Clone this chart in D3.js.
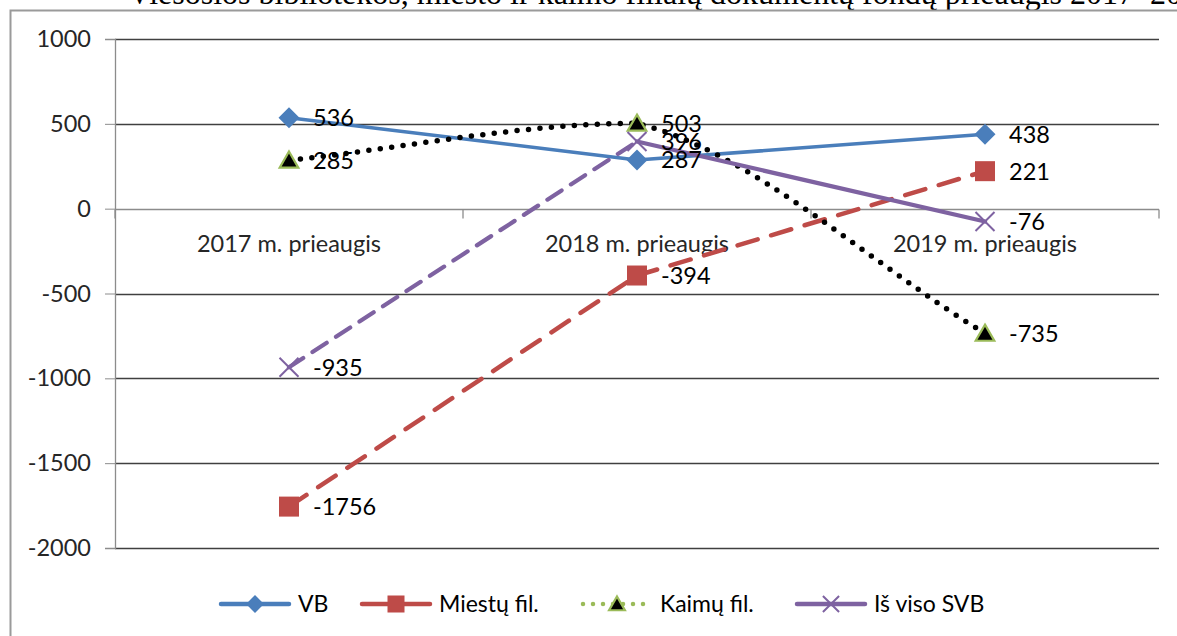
<!DOCTYPE html>
<html>
<head>
<meta charset="utf-8">
<script src="https://d3js.org/d3.v7.min.js"></script>
<style>
    body { margin: 0; background: #fff; }
    svg text { font-family: Lato, "Open Sans", sans-serif; }
</style>
</head>
<body>
<div id="chart"></div>
<script>
    // data
    const categories = ['2017 m. prieaugis', '2018 m. prieaugis', '2019 m. prieaugis'];
    const seriesNames = ['VB', 'Miestų fil.', 'Kaimų fil.', 'Iš viso SVB'];
    const vbValues = [536, 287, 438];
    const miestuValues = [-1756, -394, 221];
    const kaimuValues = [285, 503, -735];
    const isVisoValues = [-935, 396, -76];
    const yTicks = [1000, 500, 0, -500, -1000, -1500, -2000];
    const titleText = 'Viešosios bibliotekos, miesto ir kaimo filialų dokumentų fondų prieaugis 2017–2019 m.';

    const width = 1177, height = 636;
    const margin = { top: 39, right: 18, bottom: 88, left: 115 };
    const fontSize = 23.5;

    const svg = d3.select('#chart').append('svg')
        .attr('width', width)
        .attr('height', height);

    // clipped heading of the document above the chart
    svg.append('text')
        .attr('x', 128)
        .attr('y', 4)
        .attr('font-size', 32)
        .style('font-family', '"Liberation Serif", serif')
        .attr('fill', '#000')
        .text(titleText);

    // chart frame
    svg.append('path')
        .attr('d', `M10.5,${height} V10.5 H${width}`)
        .attr('fill', 'none')
        .attr('stroke', '#9a9a9a')
        .attr('stroke-width', 2);

    const x = d3.scalePoint()
        .domain(categories)
        .range([margin.left, width - margin.right])
        .padding(0.5);
    const band = x.step();

    const y = d3.scaleLinear()
        .domain([-2000, 1000])
        .range([height - margin.bottom, margin.top]);

    // gridlines
    svg.append('g')
        .selectAll('line')
        .data(yTicks.filter(d => d !== 0))
        .join('line')
        .attr('x1', margin.left)
        .attr('x2', width - margin.right)
        .attr('y1', d => Math.round(y(d)) + 0.5)
        .attr('y2', d => Math.round(y(d)) + 0.5)
        .attr('stroke', '#404040')
        .attr('stroke-width', 1.4);

    // value axis
    const yAxis = svg.append('g')
        .attr('transform', `translate(${margin.left},0)`)
        .call(d3.axisLeft(y).tickValues(yTicks).tickSize(10).tickPadding(14).tickFormat(d => String(d)));
    yAxis.select('.domain').attr('stroke', '#8c8c8c').attr('stroke-width', 1.3);
    yAxis.selectAll('.tick line').attr('stroke', '#8c8c8c');
    yAxis.selectAll('.tick text')
        .attr('font-size', fontSize)
        .attr('fill', '#262626')
        .style('font-family', 'Lato, sans-serif');

    // category axis at zero
    const y0 = Math.round(y(0)) + 0.5;
    svg.append('line')
        .attr('x1', margin.left).attr('x2', width - margin.right)
        .attr('y1', y0).attr('y2', y0)
        .attr('stroke', '#8c8c8c').attr('stroke-width', 1.3);
    svg.append('g')
        .selectAll('line')
        .data(d3.range(categories.length + 1))
        .join('line')
        .attr('x1', i => margin.left + i * band)
        .attr('x2', i => margin.left + i * band)
        .attr('y1', y0).attr('y2', y0 + 9)
        .attr('stroke', '#8c8c8c').attr('stroke-width', 1.3);
    svg.append('g')
        .selectAll('text')
        .data(categories)
        .join('text')
        .attr('x', d => x(d))
        .attr('y', y0 + 42)
        .attr('text-anchor', 'middle')
        .attr('font-size', fontSize)
        .attr('fill', '#262626')
        .text(d => d);

    // Excel-like smoothing: Catmull-Rom tangents, control points clamped to each segment
    function smoothPath(pts) {
        const p = d3.path();
        p.moveTo(pts[0][0], pts[0][1]);
        const n = pts.length;
        const tangent = i => {
            const a = pts[Math.max(i - 1, 0)], b = pts[Math.min(i + 1, n - 1)];
            const k = (i === 0 || i === n - 1) ? 1 / 3 : 1 / 6;
            return [(b[0] - a[0]) * k, (b[1] - a[1]) * k];
        };
        for (let i = 0; i < n - 1; i++) {
            const a = pts[i], b = pts[i + 1];
            const ta = tangent(i), tb = tangent(i + 1);
            const lo = Math.min(a[1], b[1]), hi = Math.max(a[1], b[1]);
            const c1 = [a[0] + ta[0], Math.max(lo, Math.min(hi, a[1] + ta[1]))];
            const c2 = [b[0] - tb[0], Math.max(lo, Math.min(hi, b[1] - tb[1]))];
            p.bezierCurveTo(c1[0], c1[1], c2[0], c2[1], b[0], b[1]);
        }
        return p.toString();
    }

    const series = [
        { name: seriesNames[0], values: vbValues, color: '#4A7EBB', marker: 'diamond', dash: [null, null], width: 3.5 },
        { name: seriesNames[1], values: miestuValues, color: '#BE4B48', marker: 'square', dash: ['21 14', '21 14'], width: 4.5 },
        { name: seriesNames[2], values: kaimuValues, color: '#000', marker: 'triangle', dash: ['0 11.5', '0 11.5'], width: 5.5 },
        { name: seriesNames[3], values: isVisoValues, color: '#7E62A1', marker: 'x', dash: ['17 11', null], width: 4.2 }
    ];

    function drawMarker(g, type, cx, cy, scale = 1) {
        if (type === 'diamond') {
            const s = 10.5 * scale;
            g.append('path')
                .attr('d', `M${cx},${cy - s} L${cx + s},${cy} L${cx},${cy + s} L${cx - s},${cy} Z`)
                .attr('fill', '#4A7EBB');
        } else if (type === 'square') {
            const s = 10 * scale;
            g.append('rect')
                .attr('x', cx - s).attr('y', cy - s)
                .attr('width', 2 * s).attr('height', 2 * s)
                .attr('fill', '#BE4B48');
        } else if (type === 'triangle') {
            g.append('path')
                .attr('d', d3.symbol(d3.symbolTriangle, 150 * scale * scale)())
                .attr('transform', `translate(${cx},${cy + 2 * scale})`)
                .attr('fill', '#000')
                .attr('stroke', '#9BBB59')
                .attr('stroke-width', 2.2);
        } else {
            const s = 9.5 * scale;
            g.append('path')
                .attr('d', `M${cx - s},${cy - s} L${cx + s},${cy + s} M${cx - s},${cy + s} L${cx + s},${cy - s}`)
                .attr('stroke', '#7E62A1')
                .attr('stroke-width', 2)
                .attr('fill', 'none');
        }
    }

    const plot = svg.append('g');

    series.forEach(s => {
        const pts = s.values.map((v, i) => [x(categories[i]), y(v)]);
        if (s.marker === 'triangle') {
            plot.append('path')
                .attr('d', smoothPath(pts))
                .attr('fill', 'none')
                .attr('stroke', s.color)
                .attr('stroke-width', s.width)
                .attr('stroke-linecap', 'round')
                .attr('stroke-dasharray', s.dash[0]);
        } else {
            for (let i = 0; i < pts.length - 1; i++) {
                plot.append('path')
                    .attr('d', d3.line()([pts[i], pts[i + 1]]))
                    .attr('fill', 'none')
                    .attr('stroke', s.color)
                    .attr('stroke-width', s.width)
                    .attr('stroke-linecap', 'round')
                    .attr('stroke-dasharray', s.dash[i]);
            }
        }
    });

    series.forEach(s => {
        s.values.forEach((v, i) => {
            const cx = x(categories[i]), cy = y(v);
            drawMarker(plot, s.marker, cx, cy);
            plot.append('text')
                .attr('x', cx + 24)
                .attr('y', cy)
                .attr('dy', '0.36em')
                .attr('font-size', fontSize)
                .attr('fill', '#000')
                .text(v);
        });
    });

    // legend
    const legendY = 604;
    const legendX = [221, 362, 583, 797];
    const legend = svg.append('g');
    series.forEach((s, i) => {
        const lx = legendX[i];
        const lineLen = 68;
        const isDots = s.marker === 'triangle';
        legend.append('line')
            .attr('x1', lx).attr('x2', lx + lineLen)
            .attr('y1', legendY).attr('y2', legendY)
            .attr('stroke', isDots ? '#9BBB59' : s.color)
            .attr('stroke-width', isDots ? 4.5 : 4.5)
            .attr('stroke-linecap', isDots ? 'round' : 'round')
            .attr('stroke-dasharray', isDots ? '0 10' : null);
        drawMarker(legend, s.marker, lx + lineLen / 2, legendY, 0.85);
        legend.append('text')
            .attr('x', lx + lineLen + 9)
            .attr('y', legendY)
            .attr('dy', '0.36em')
            .attr('font-size', 23)
            .attr('fill', '#000')
            .text(s.name);
    });
</script>
</body>
</html>
